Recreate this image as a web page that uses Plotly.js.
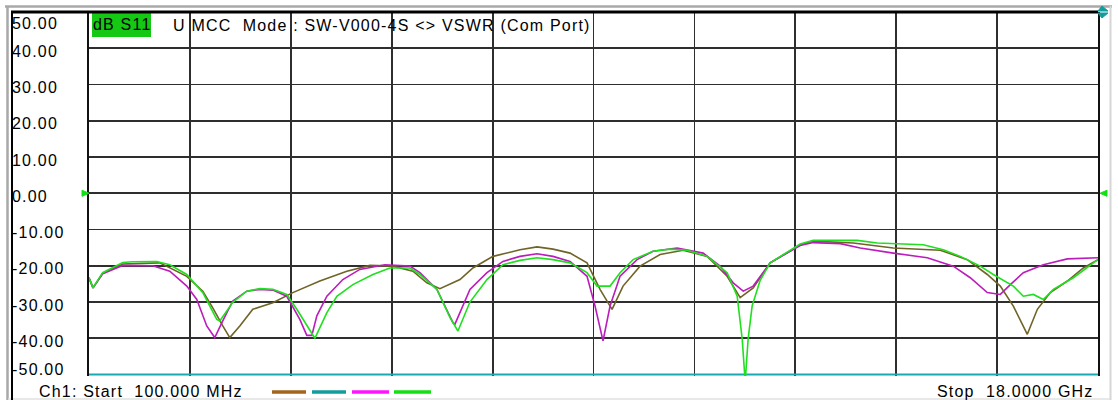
<!DOCTYPE html>
<html>
<head>
<meta charset="utf-8">
<script src="https://cdn.plot.ly/plotly-3.0.1.min.js"></script>
<style>
  html, body { margin: 0; padding: 0; background: #ffffff; }
  #chart { width: 1118px; height: 400px; }
  svg text { letter-spacing: 1.2px; }
</style>
</head>
<body>
<div id="chart"></div>
<script>
// ---- data (frequency in GHz, magnitude in dB) ----
const greenFreq = [0.1, 0.171, 0.343, 0.698, 0.876, 1.302, 1.533, 1.835, 2.119, 2.367, 2.42, 2.651, 2.899, 3.13, 3.361, 3.609, 3.787, 3.964, 4.107, 4.32, 4.497, 4.781, 5.136, 5.438, 5.793, 5.97, 6.272, 6.503, 6.645, 6.858, 7.036, 7.16, 7.444, 7.746, 8.048, 8.332, 8.634, 8.935, 9.113, 9.344, 9.521, 9.752, 10.107, 10.409, 10.711, 11.066, 11.421, 11.599, 11.688, 11.741, 11.794, 11.865, 12.007, 12.184, 12.717, 12.948, 13.729, 14.084, 14.9, 15.255, 15.557, 15.912, 16.143, 16.498, 16.675, 16.853, 17.03, 17.208, 17.563, 18.0];
const greenDb = [-23.3, -26.1, -21.9, -19.1, -18.9, -18.8, -19.7, -22.4, -27.4, -34.8, -35.2, -30.1, -27.0, -26.3, -26.5, -27.9, -32.0, -36.6, -40.0, -32.9, -28.4, -25.2, -22.4, -20.6, -20.6, -22.4, -26.5, -34.2, -38.0, -30.0, -26.5, -23.8, -19.7, -18.5, -17.8, -18.3, -19.2, -21.9, -25.6, -25.6, -21.9, -18.3, -16.0, -15.4, -15.7, -17.4, -21.9, -28.4, -40.2, -52.0, -40.0, -31.0, -24.0, -19.2, -14.0, -13.0, -13.0, -13.7, -14.2, -15.6, -17.4, -20.1, -22.4, -25.6, -28.4, -27.9, -29.3, -26.5, -23.3, -18.3];

const magentaFreq = [0.1, 0.171, 0.343, 0.698, 1.231, 1.533, 1.835, 2.012, 2.189, 2.331, 2.473, 2.651, 2.899, 3.13, 3.361, 3.609, 3.84, 3.964, 4.053, 4.142, 4.32, 4.603, 4.905, 5.349, 5.793, 5.97, 6.272, 6.556, 6.592, 6.858, 7.16, 7.444, 7.746, 8.048, 8.332, 8.634, 8.935, 9.077, 9.219, 9.344, 9.521, 9.823, 10.107, 10.533, 10.995, 11.297, 11.528, 11.706, 11.883, 12.184, 12.717, 12.948, 13.427, 13.782, 14.368, 14.971, 15.432, 15.734, 16.036, 16.267, 16.445, 16.675, 17.03, 17.456, 18.0];
const magentaDb = [-23.3, -26.1, -22.2, -19.9, -20.0, -21.5, -25.6, -29.3, -36.6, -39.8, -35.2, -29.7, -27.0, -26.5, -26.7, -28.4, -34.8, -39.2, -39.2, -33.8, -28.4, -23.8, -21.0, -19.7, -20.1, -21.9, -26.5, -35.7, -36.1, -26.5, -21.9, -18.8, -17.4, -16.7, -17.4, -18.8, -22.9, -31.1, -40.7, -31.1, -22.9, -18.3, -16.0, -15.1, -16.5, -20.1, -24.7, -27.0, -25.6, -19.2, -14.4, -13.6, -13.9, -15.1, -16.5, -17.8, -20.1, -23.3, -27.4, -27.9, -25.2, -21.9, -19.7, -18.1, -17.8];

const brownFreq = [0.1, 0.171, 0.343, 0.698, 1.355, 1.835, 2.119, 2.296, 2.473, 2.598, 2.775, 3.006, 3.361, 3.716, 4.195, 4.674, 5.083, 5.491, 5.846, 6.094, 6.325, 6.681, 6.911, 7.267, 7.746, 8.048, 8.332, 8.634, 8.935, 9.166, 9.379, 9.574, 9.876, 10.231, 10.64, 11.066, 11.421, 11.652, 11.883, 12.184, 12.717, 12.948, 13.658, 14.368, 15.202, 15.681, 16.036, 16.267, 16.498, 16.746, 16.924, 17.154, 17.456, 17.74, 18.0];
const brownDb = [-23.3, -26.1, -22.0, -19.5, -19.2, -22.9, -27.0, -31.6, -36.6, -39.8, -36.6, -32.0, -30.2, -27.4, -24.2, -21.5, -19.9, -20.1, -21.5, -24.7, -26.3, -23.8, -20.6, -17.4, -15.6, -14.8, -15.4, -16.5, -19.2, -26.5, -32.0, -25.6, -20.1, -16.9, -15.7, -17.4, -22.9, -28.8, -26.1, -19.2, -14.2, -13.2, -13.7, -15.1, -15.7, -18.3, -22.4, -25.6, -31.1, -38.9, -32.0, -27.4, -24.2, -20.6, -18.3];

const tealFreq = [0.1, 18.0];
const tealDb = [-50.0, -50.0];

const yTickVals = [50, 40, 30, 20, 10, 0, -10, -20, -30, -40, -50];
const yTickText = ['50.00', '40.00', '30.00', '20.00', '10.00', '0.00', '-10.00', '-20.00', '-30.00', '-40.00', '-50.00'];

const startFreqGHz = 0.1;
const stopFreqGHz = 18.0;
const divisions = 10;

const startLabel = 'Ch1: Start\u00a0 100.000 MHz';
const stopLabel = 'Stop\u00a0 18.0000 GHz';
const traceLabel = 'dB S11';
const titleText = 'U\u00a0MCC\u00a0 Mode\u00a0: SW-V000-4S &lt;&gt; VSWR (Com Port)';

// ---- colours ----
const colGreen = '#1ee01e', colMagenta = '#bb1cbb', colBrown = '#6f6426', colTeal = '#1aa9b0';
const legGreen = '#12e012', legMagenta = '#ff12ff', legBrown = '#a3651c', legTeal = '#139c9c';

// ---- geometry helpers (pixel -> paper) ----
const L = 89, R = 1098, T = 12, B = 376;
const PX = x => (x - L) / (R - L);
const PY = y => (B - y) / (B - T);

const font = { family: '"Liberation Sans", Arial, sans-serif', size: 16, color: '#000000' };

const gridTicks = [];
for (let k = 0; k <= divisions; k++) gridTicks.push(startFreqGHz + k * (stopFreqGHz - startFreqGHz) / divisions);

function line(color, width) { return { color: color, width: width, shape: 'linear' }; }

const traces = [
  { x: tealFreq, y: tealDb, mode: 'lines', line: line(colTeal, 2), hoverinfo: 'skip' },
  { x: brownFreq, y: brownDb, mode: 'lines', line: line(colBrown, 1.6), hoverinfo: 'skip' },
  { x: magentaFreq, y: magentaDb, mode: 'lines', line: line(colMagenta, 1.6), hoverinfo: 'skip' },
  { x: greenFreq, y: greenDb, mode: 'lines', line: line(colGreen, 1.6), hoverinfo: 'skip' }
];

const annotations = [];
yTickVals.forEach((v, i) => {
  const first = i === 0, last = i === yTickVals.length - 1;
  annotations.push({
    xref: 'paper', yref: 'y', x: PX(10), y: v, text: yTickText[i],
    xanchor: 'left', yanchor: first ? 'top' : 'middle',
    yshift: first ? -1 : (last ? 5 : -3),
    showarrow: false, font: font
  });
});
annotations.push({ xref: 'paper', yref: 'paper', x: PX(91), y: PY(25), text: traceLabel, xanchor: 'left', yanchor: 'middle', showarrow: false, font: font });
annotations.push({ xref: 'paper', yref: 'paper', x: PX(171), y: PY(26), text: titleText, xanchor: 'left', yanchor: 'middle', showarrow: false, font: font });
annotations.push({ xref: 'paper', yref: 'paper', x: PX(37), y: PY(391), text: startLabel, xanchor: 'left', yanchor: 'middle', showarrow: false, font: font });
annotations.push({ xref: 'paper', yref: 'paper', x: PX(1096), y: PY(391), text: stopLabel, xanchor: 'right', yanchor: 'middle', showarrow: false, font: font });

function hline(x0, x1, y, color, w) { return { type: 'line', xref: 'paper', yref: 'paper', x0: PX(x0), x1: PX(x1), y0: PY(y), y1: PY(y), line: { color: color, width: w } }; }
function vline(x, y0, y1, color, w) { return { type: 'line', xref: 'paper', yref: 'paper', x0: PX(x), x1: PX(x), y0: PY(y0), y1: PY(y1), line: { color: color, width: w } }; }

const shapes = [
  // window frame
  hline(5, 1112, 6.5, '#a9a9a9', 2.5),
  vline(7.5, 6, 400, '#a9a9a9', 2.5),
  vline(1110.5, 6, 400, '#d6d6d6', 2),
  hline(8, 1110, 399, '#e0e0e0', 1.5),
  vline(12, 11, 400, '#000000', 2),
  hline(11, 1098, 12, '#000000', 3),
  // active trace label box
  { type: 'rect', xref: 'paper', yref: 'paper', x0: PX(92), x1: PX(151), y0: PY(37), y1: PY(13), fillcolor: '#14c814', line: { width: 0 }, layer: 'below' },
  // legend dashes
  hline(272, 306, 392, legBrown, 3.5),
  hline(312, 346, 392, legTeal, 3.5),
  hline(352, 389, 392, legMagenta, 3.5),
  hline(394, 431, 392, legGreen, 3.5),
  // reference markers
  { type: 'path', xref: 'paper', yref: 'y', xsizemode: 'pixel', ysizemode: 'pixel', xanchor: 0, yanchor: 0, path: 'M -7 3 L 0 0 L -7 -3 Z', fillcolor: legGreen, line: { color: legGreen, width: 1 } },
  { type: 'path', xref: 'paper', yref: 'y', xsizemode: 'pixel', ysizemode: 'pixel', xanchor: 1, yanchor: 0, path: 'M 9 3 L 2 0 L 9 -3 Z', fillcolor: legGreen, line: { color: legGreen, width: 1 } },
  { type: 'path', xref: 'paper', yref: 'paper', xsizemode: 'pixel', ysizemode: 'pixel', xanchor: 1, yanchor: 1, path: 'M 0 1 L 10 1 L 4 6 Z', fillcolor: legTeal, line: { color: legTeal, width: 1 } },
  { type: 'path', xref: 'paper', yref: 'paper', xsizemode: 'pixel', ysizemode: 'pixel', xanchor: 1, yanchor: 1, path: 'M 0 -1 L 10 -1 L 4 -6 Z', fillcolor: legTeal, line: { color: legTeal, width: 1 } }
];

const layout = {
  width: 1118, height: 400,
  margin: { l: L, r: 1118 - R, t: T, b: 400 - B, pad: 0 },
  paper_bgcolor: '#ffffff', plot_bgcolor: '#ffffff',
  showlegend: false,
  font: font,
  xaxis: {
    range: [startFreqGHz, stopFreqGHz], tickmode: 'array', tickvals: gridTicks,
    showticklabels: false, ticks: '', showgrid: true, gridcolor: '#2e2e2e', gridwidth: 1.8,
    zeroline: false, showline: false, fixedrange: true
  },
  yaxis: {
    range: [-50.4, 50], tickmode: 'array', tickvals: yTickVals,
    showticklabels: false, ticks: '', showgrid: true, gridcolor: '#2e2e2e', gridwidth: 1.8,
    zeroline: false, showline: true, mirror: true, linecolor: '#111111', linewidth: 2, fixedrange: true
  },
  shapes: shapes,
  annotations: annotations
};

Plotly.newPlot('chart', traces, layout, { staticPlot: true, displayModeBar: false });
</script>
</body>
</html>
